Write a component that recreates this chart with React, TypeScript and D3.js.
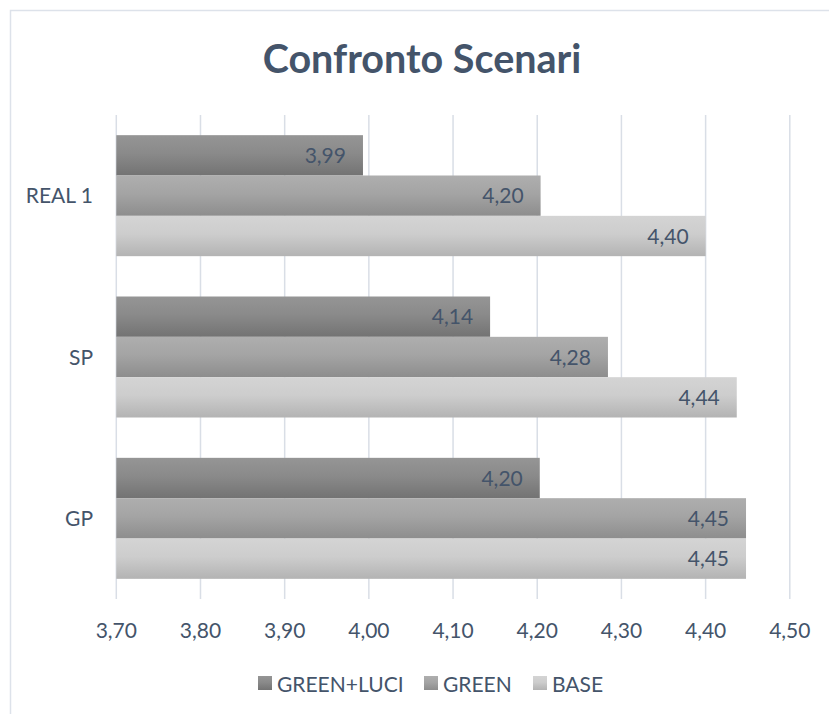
import React from "react";
import * as d3 from "d3";

const categories = ["REAL 1", "SP", "GP"];
const seriesNames = ["GREEN+LUCI", "GREEN", "BASE"];
const greenLuciValues = [3.993, 4.144, 4.203];
const greenValues = [4.204, 4.284, 4.448];
const baseValues = [4.4, 4.437, 4.448];
const xTickValues = [3.7, 3.8, 3.9, 4.0, 4.1, 4.2, 4.3, 4.4, 4.5];

const W = 829;
const H = 714;
const FONT = "Lato, 'Open Sans', sans-serif";
const TEXT = "#44546A";
const GRID = "#D9DEE6";

const gradients = [
  { id: "g0", top: "#959595", mid: "#8A8A8A", bottom: "#737373" },
  { id: "g1", top: "#AEAEAE", mid: "#A4A4A4", bottom: "#8D8D8D" },
  { id: "g2", top: "#D4D4D4", mid: "#CDCDCD", bottom: "#B3B3B3" },
];

const fmt = (v: number) => d3.format(".2f")(v).replace(".", ",");

export default function App() {
  const series = [greenLuciValues, greenValues, baseValues];
  const x = d3.scaleLinear().domain([3.7, 4.5]).range([116.3, 789.8]);
  const y = d3
    .scaleBand<string>()
    .domain(categories)
    .range([115, 599])
    .paddingInner(0.25)
    .paddingOuter(0.125);
  const ySub = d3
    .scaleBand<string>()
    .domain(seriesNames)
    .range([0, y.bandwidth()])
    .padding(0);

  const legendX = [258, 424, 533];

  return (
    <svg
      width={W}
      height={H}
      style={{ position: "absolute", left: 0, top: 0, background: "#fff" }}
      fontFamily={FONT}
    >
      <defs>
        {gradients.map((g) => (
          <linearGradient key={g.id} id={g.id} x1="0" y1="0" x2="0" y2="1">
            <stop offset="0" stopColor={g.top} />
            <stop offset="0.45" stopColor={g.mid} />
            <stop offset="1" stopColor={g.bottom} />
          </linearGradient>
        ))}
      </defs>
      <rect x={0} y={0} width={W} height={H} fill="#fff" />
      <rect x={10.5} y={10.5} width={W + 20} height={H + 20} fill="none" stroke="#DDE2EA" strokeWidth={1.5} />
      <text x={422} y={72.5} textAnchor="middle" fontSize={39.5} fontWeight={700} fill={TEXT}>
        Confronto Scenari
      </text>
      {xTickValues.map((t) => (
        <line key={"g" + t} x1={x(t)} x2={x(t)} y1={115} y2={599} stroke={GRID} strokeWidth={1.5} />
      ))}
      {categories.map((c, ci) =>
        seriesNames.map((s, si) => {
          const v = series[si][ci];
          const y0 = (y(c) as number) + (ySub(s) as number);
          const h = ySub.bandwidth();
          return (
            <g key={c + s}>
              <rect x={x(3.7)} y={y0} width={x(v) - x(3.7)} height={h} fill={`url(#g${si})`} />
              <text x={x(v) - 17} y={y0 + h / 2 + 7.5} textAnchor="end" fontSize={21} fill={TEXT}>
                {fmt(v)}
              </text>
            </g>
          );
        })
      )}
      {categories.map((c) => (
        <text key={c} x={93} y={(y(c) as number) + y.bandwidth() / 2 + 7.5} textAnchor="end" fontSize={21} fill={TEXT}>
          {c}
        </text>
      ))}
      {xTickValues.map((t) => (
        <text key={"t" + t} x={x(t)} y={638} textAnchor="middle" fontSize={21} fill={TEXT}>
          {fmt(t)}
        </text>
      ))}
      {seriesNames.map((s, i) => (
        <g key={s}>
          <rect x={legendX[i]} y={676} width={14} height={14} fill={`url(#g${i})`} />
          <text x={legendX[i] + 19} y={691.5} fontSize={21} fill={TEXT}>
            {s}
          </text>
        </g>
      ))}
    </svg>
  );
}
